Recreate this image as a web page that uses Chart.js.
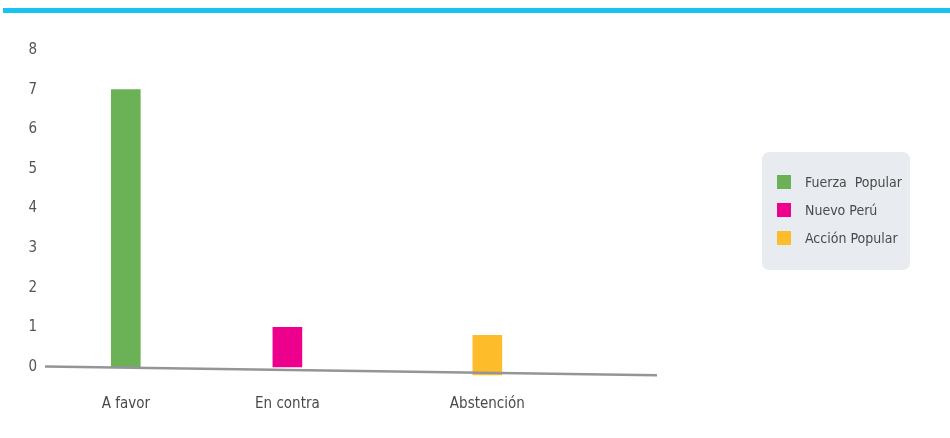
<!DOCTYPE html>
<html lang="es">
<head>
<meta charset="utf-8">
<title>Votación</title>
<script src="https://cdn.jsdelivr.net/npm/chart.js@4.4.1/dist/chart.umd.min.js"></script>
<style>
  html, body { margin: 0; padding: 0; background: #ffffff; }
  #wrap { position: relative; width: 950px; height: 438px; overflow: hidden; }
  #chart { position: absolute; left: 0; top: 0; }
  #topRule { position: absolute; left: 3px; right: 0; top: 8px; height: 5px; background: #19c3ef; }
</style>
</head>
<body>
<div id="wrap">
  <canvas id="chart" width="950" height="438"></canvas>
  <div id="topRule"></div>
</div>
<script>
// ---- data ----
const categories = ['A favor', 'En contra', 'Abstención'];
const partyNames = ['Fuerza  Popular', 'Nuevo Perú', 'Acción Popular'];
const fuerzaPopular = [7, null, null];
const nuevoPeru = [null, 1, null];
const accionPopular = [null, null, 1];
const yTicks = [0, 1, 2, 3, 4, 5, 6, 7, 8];

// ---- layout / style ----
const partyColors = ['#6bb156', '#ec008c', '#fdbd2a'];
const slotPositions = [2, 6, 10.95];   // where each vote category sits on the x axis (0..15.1)
const baseShift = [0, 0, -0.2];        // the abstention bar sits on the lower end of the sloping base line
const baselineTilt = { from: 0.01, to: -0.21 };
const FONT = "'Liberation Sans Narrow', 'DejaVu Sans Condensed', 'Roboto Condensed', sans-serif";

Chart.defaults.font.family = FONT;
Chart.defaults.font.size = 15;
Chart.defaults.color = '#555555';

const series = [fuerzaPopular, nuevoPeru, accionPopular];
const datasets = series.map((vals, k) => ({
  label: partyNames[k],
  backgroundColor: partyColors[k],
  borderWidth: 0,
  barThickness: 29,
  grouped: false,
  clip: false,
  data: vals
    .map((v, i) => (v == null ? null : { x: slotPositions[i], y: [baseShift[i], baseShift[i] + v] }))
    .filter(p => p !== null)
}));

// sloping grey base line drawn over the bars
const baselinePlugin = {
  id: 'baseline',
  afterDatasetsDraw(chart) {
    const { ctx, chartArea, scales } = chart;
    ctx.save();
    ctx.strokeStyle = '#939598';
    ctx.lineWidth = 2.5;
    ctx.beginPath();
    ctx.moveTo(chartArea.left, scales.y.getPixelForValue(baselineTilt.from));
    ctx.lineTo(chartArea.right + 2, scales.y.getPixelForValue(baselineTilt.to));
    ctx.stroke();
    ctx.restore();
  }
};

// legend panel on the right
const legendPanel = {
  id: 'legendPanel',
  afterDraw(chart, args, opts) {
    const { ctx } = chart;
    const { x, y, w, h, r } = opts.box;
    ctx.save();
    ctx.fillStyle = '#e8ecf0';
    ctx.beginPath();
    ctx.moveTo(x + r, y);
    ctx.lineTo(x + w - r, y);
    ctx.quadraticCurveTo(x + w, y, x + w, y + r);
    ctx.lineTo(x + w, y + h - r);
    ctx.quadraticCurveTo(x + w, y + h, x + w - r, y + h);
    ctx.lineTo(x + r, y + h);
    ctx.quadraticCurveTo(x, y + h, x, y + h - r);
    ctx.lineTo(x, y + r);
    ctx.quadraticCurveTo(x, y, x + r, y);
    ctx.closePath();
    ctx.fill();

    ctx.font = '14px ' + FONT;
    ctx.textBaseline = 'middle';
    ctx.textAlign = 'left';
    chart.data.datasets.forEach((ds, i) => {
      const cy = opts.firstY + i * opts.step;
      ctx.fillStyle = ds.backgroundColor;
      ctx.fillRect(opts.swatchX, cy - 7, 14, 14);
      ctx.fillStyle = '#4a4a4a';
      ctx.fillText(ds.label, opts.textX, cy + 1);
    });
    ctx.restore();
  }
};

new Chart(document.getElementById('chart'), {
  type: 'bar',
  data: { datasets },
  plugins: [baselinePlugin, legendPanel],
  options: {
    responsive: false,
    animation: false,
    layout: { padding: { left: 0, right: 295, top: 50, bottom: 0 } },
    plugins: {
      legend: { display: false },
      tooltip: { enabled: false },
      legendPanel: {
        box: { x: 762, y: 152, w: 148, h: 118, r: 8 },
        swatchX: 777, textX: 805, firstY: 182, step: 28
      }
    },
    scales: {
      x: {
        type: 'linear',
        offset: false,
        min: 0,
        max: 15.1,
        grid: { display: false, drawTicks: false },
        border: { display: false },
        afterBuildTicks: s => { s.ticks = slotPositions.map(v => ({ value: v })); },
        afterFit: s => { s.height = 71; },
        ticks: {
          autoSkip: false,
          maxRotation: 0,
          padding: 28,
          color: '#4a4a4a',
          callback: (v, i) => categories[i]
        }
      },
      y: {
        min: 0,
        max: 8,
        grid: { display: false, drawTicks: false },
        border: { display: false },
        afterBuildTicks: s => { s.ticks = yTicks.map(v => ({ value: v })); },
        afterFit: s => { s.width = 45; },
        ticks: { padding: 8, color: '#555555' }
      }
    }
  }
});
</script>
</body>
</html>
